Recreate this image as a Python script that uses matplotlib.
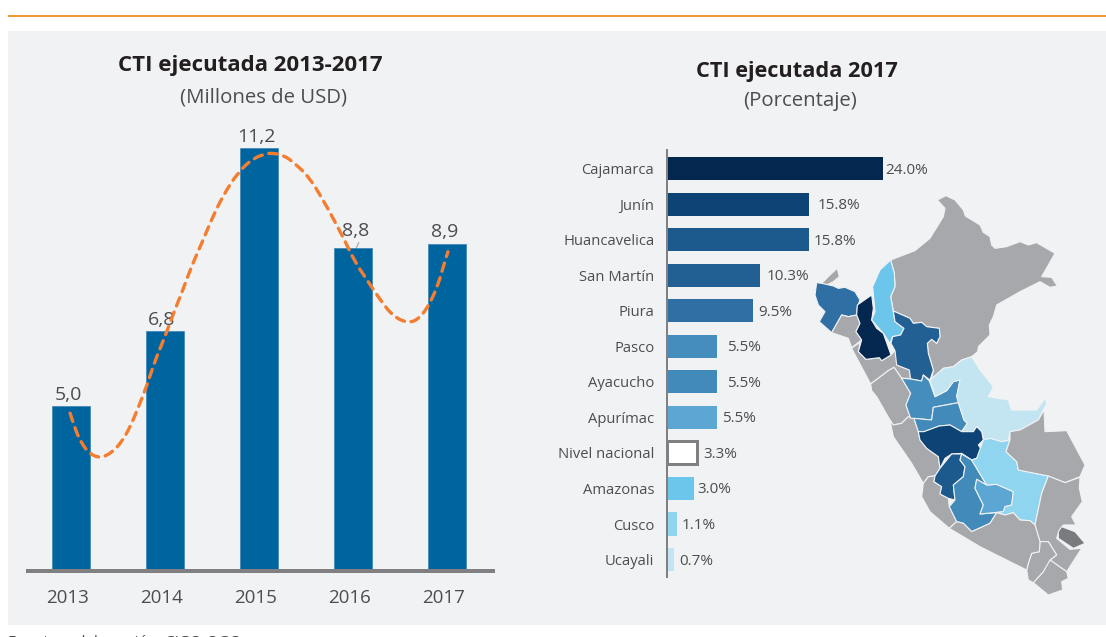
import matplotlib
matplotlib.use("Agg")
import matplotlib.pyplot as plt
from matplotlib.path import Path
from matplotlib.patches import PathPatch, Polygon, Rectangle

W, H = 1106, 637
PX = 72 / 100  # one pixel in points at dpi 100

plt.rcParams["font.family"] = ["Open Sans", "DejaVu Sans"]

# ── data ─────────────────────────────────────────────────────────
years = ["2013", "2014", "2015", "2016", "2017"]
executed = [5.0, 6.8, 11.2, 8.8, 8.9]
executed_labels = ["5,0", "6,8", "11,2", "8,8", "8,9"]
label_dx = [-3, -3, -3, 3, -2]
label_dy = [2, 2, 2, 8, 3]

# dashed orange trend
trend_x = [-0.01, 0.04, 0.11, 0.20, 0.31, 0.43, 0.54, 0.63, 0.72, 0.81, 0.89, 1.00, 1.09,
           1.19, 1.28, 1.39, 1.50, 1.62, 1.78, 1.94, 2.08, 2.14, 2.26, 2.40, 2.54, 2.67,
           2.79, 2.91, 3.02, 3.15, 3.29, 3.43, 3.59, 3.71, 3.82, 3.91, 3.96, 4.01]
trend_y = [4.83, 4.47, 4.11, 3.85, 3.75, 3.87, 4.14, 4.50, 4.99, 5.51, 6.07, 6.67, 7.23,
           7.79, 8.35, 8.91, 9.51, 10.07, 10.63, 10.96, 11.07, 11.08, 11.04, 10.80, 10.48, 10.00,
           9.51, 8.99, 8.47, 8.03, 7.55, 7.15, 6.99, 7.11, 7.47, 7.95, 8.35, 8.71]

regions = ["Cajamarca", "Junín", "Huancavelica", "San Martín", "Piura", "Pasco", "Ayacucho",
           "Apurímac", "Nivel nacional", "Amazonas", "Cusco", "Ucayali"]
shares = [24.0, 15.8, 15.8, 10.3, 9.5, 5.5, 5.5, 5.5, 3.3, 3.0, 1.1, 0.7]
region_colors = ["#03274f", "#0e4475", "#1c5a8e", "#226094", "#2f6fa3", "#448dbd", "#418aba",
                 "#5ca6d3", "#ffffff", "#6cc6ec", "#8fd5ef", "#c2e5f1"]
share_gaps = [3, 9, 5, 7, 6, 10, 10, 5, 6, 3, 4, 6]

# ── map outlines, traced at 3x from (780, 180) ───────────────────
GREY = "#a7a8ab"
map_shapes = [
    (GREY, [(472,60),(498,47),(525,60),(550,90),(556,108),(600,135),(610,157),(630,170),(635,195),
            (645,205),(680,200),(720,185),(745,195),(770,188),(825,220),(785,290),(815,292),(832,318),
            (810,322),(780,305),(720,335),(650,375),(640,410),(628,435),(630,465),(595,500),(593,515),
            (575,530),(545,540),(520,560),(490,565),(470,590),(455,595),(460,570),(445,520),(442,490),
            (455,478),(470,490),(480,470),(478,445),(440,440),(425,427),(400,430),(390,415),(340,393),
            (332,350),(345,320),(343,280),(332,240),(405,212),(450,175),(490,110),(495,85)]),
    (GREY, [(125,310),(150,285),(172,265),(178,290),(160,305),(140,315)]),
    ("#2f6fa3", [(110,308),(125,310),(160,318),(175,325),(195,322),(225,335),(240,360),(232,380),(230,405),
                 (205,410),(185,405),(155,458),(118,425),(135,395),(115,375),(105,345)]),
    (GREY, [(155,458),(185,405),(205,410),(230,405),(240,430),(228,455),(245,480),(215,503),(205,475)]),
    (GREY, [(215,505),(240,487),(235,515),(258,538),(298,533),(305,542),(333,525),(345,512),(355,535),
            (350,555),(388,570),(392,595),(365,595),(342,562),(325,572),(272,612)]),
    ("#03274f", [(275,345),(280,385),(275,420),(290,445),(310,460),(333,525),(305,542),(298,533),(258,538),
                 (235,515),(245,480),(228,455),(240,430),(230,405),(232,375)]),
    ("#6cc6ec", [(332,240),(343,280),(345,320),(332,350),(340,395),(345,425),(372,445),(362,465),(338,470),
                 (330,490),(310,460),(275,420),(285,395),(278,320),(300,270)]),
    ("#226094", [(340,393),(390,415),(400,430),(425,427),(440,440),(478,445),(480,470),(470,490),(455,478),
                 (442,490),(445,520),(460,570),(450,600),(430,585),(425,603),(392,597),(388,570),(350,555),
                 (345,512),(333,490),(338,470),(362,465),(372,445),(345,425)]),
    (GREY, [(272,612),(325,572),(342,562),(365,595),(392,640),(378,675),(392,715),(385,710),(365,730),
            (340,735),(330,720),(290,650),(275,632)]),
    (GREY, [(330,720),(340,735),(365,730),(385,710),(402,715),(415,755),(420,780),(440,805),(475,830),
            (480,865),(465,888),(445,890),(430,910),(395,850),(340,770)]),
    (GREY, [(430,910),(445,890),(465,888),(462,905),(485,920),(480,942),(505,955),(508,980),(530,1025),
            (508,1045),(450,995),(425,950)]),
    ("#448dbd", [(365,595),(392,597),(425,603),(430,585),(448,603),(465,650),(500,632),(520,605),(540,600),
                 (530,650),(540,665),(535,668),(460,682),(455,720),(402,715),(392,715),(378,675),(392,640)]),
    ("#418aba", [(460,682),(535,668),(552,720),(562,730),(545,755),(510,735),(478,738),(432,755),(415,755),
                 (402,715),(455,720)]),
    ("#c2e5f1", [(450,600),(490,565),(520,560),(545,540),(575,530),(600,570),(640,620),(625,650),(685,660),
                 (695,690),(770,690),(795,655),(800,670),(775,720),(720,750),(690,755),(685,780),(665,785),
                 (630,775),(612,780),(605,755),(590,740),(580,755),(545,755),(562,730),(552,720),(535,668),
                 (530,650),(540,600),(520,605),(500,632),(465,650)]),
    ("#0e4475", [(415,755),(432,755),(478,738),(510,735),(545,755),(580,755),(590,740),(605,755),(610,780),
                 (595,795),(605,810),(590,835),(575,840),(545,820),(515,822),(495,835),(480,865),(475,830),
                 (440,805),(420,780)]),
    ("#1c5a8e", [(480,865),(515,822),(545,822),(540,840),(555,860),(550,890),(520,915),(525,960),(505,955),
                 (480,942),(485,920),(462,905),(465,888)]),
    ("#418aba", [(545,822),(575,840),(620,915),(590,898),(585,925),(610,975),(600,1002),(650,998),(630,1030),
                 (575,1055),(550,1030),(530,1025),(508,980),(525,960),(520,915),(550,890),(555,860),(540,840)]),
    ("#5ca6d3", [(590,898),(620,915),(650,913),(700,935),(695,975),(675,980),(670,995),(600,1002),(610,975),(585,925)]),
    ("#8fd5ef", [(575,840),(590,835),(610,780),(630,775),(665,785),(690,780),(678,815),(710,845),(715,870),(805,888),
                 (785,940),(765,1035),(750,1022),(720,1020),(700,998),(675,1005),(650,998),(670,995),(675,980),
                 (695,975),(700,935),(650,913),(620,915)]),
    (GREY, [(690,755),(720,750),(775,720),(792,690),(795,755),(860,752),(915,855),(900,890),(855,908),
            (805,888),(715,870),(710,845),(678,815),(690,780)]),
    (GREY, [(805,888),(855,908),(900,892),(898,925),(907,965),(875,1010),(888,1035),(850,1035),(835,1060),
            (830,1075),(870,1108),(905,1105),(860,1175),(810,1140),(830,1125),(805,1085),(780,1085),(765,1035),(785,940)]),
    ("#7a7b7e", [(845,1040),(885,1055),(915,1090),(880,1105),(835,1075),(835,1055)]),
    (GREY, [(810,1140),(860,1175),(865,1195),(845,1205),(848,1230),(805,1245),(760,1208),(790,1175),(800,1150)]),
    (GREY, [(745,1150),(755,1120),(778,1115),(780,1085),(805,1085),(830,1125),(810,1140),(790,1175),(760,1208),
            (745,1200),(740,1170)]),
    (GREY, [(508,1045),(530,1025),(550,1030),(575,1055),(630,1030),(650,998),(675,1005),(700,998),(720,1020),
            (750,1022),(765,1035),(780,1085),(778,1115),(755,1120),(745,1150),(740,1170),(690,1145),(600,1100)]),
]

# ── page: panel, rule, titles, map (pixel coordinates) ───────────
fig = plt.figure(figsize=(W / 100, H / 100), dpi=100, facecolor="white")
page = fig.add_axes([0, 0, 1, 1], zorder=0)
page.set_xlim(0, W)
page.set_ylim(H, 0)
page.axis("off")
page.add_patch(Rectangle((8, 31), W - 8, 594, fc="#f1f2f4", ec="none"))
page.add_patch(Rectangle((8, 15), W - 8, 2.4, fc="#f59a38", ec="none"))

TXT = "#4d4d4f"
page.text(250, 66, "CTI ejecutada 2013-2017", fontsize=16, fontweight="bold", color="#231f20", ha="center", va="center")
page.text(263, 97, "(Millones de USD)", fontsize=14.7, color=TXT, ha="center", va="center")
page.text(797, 71, "CTI ejecutada 2017", fontsize=15.7, fontweight="bold", color="#231f20", ha="center", va="center")
page.text(800, 101, "(Porcentaje)", fontsize=14.7, color=TXT, ha="center", va="center")
page.text(8, 634.5, "Fuente y elaboración: CIGO-OGC", fontsize=11, color=TXT, ha="left", va="top", clip_on=True)

for color, pts in map_shapes:
    xy = [(780 + x / 3, 180 + y / 3) for x, y in pts]
    page.add_patch(Polygon(xy, closed=True, fc=color, ec="#f1f2f4", lw=0.8, joinstyle="round"))

# ── left chart ───────────────────────────────────────────────────
ax = fig.add_axes([26 / W, 1 - 571 / H, 469 / W, 441 / H], zorder=1)
ax.patch.set_alpha(0)
ax.set_xlim((26 - 71) / 94, (495 - 71) / 94)
ax.set_ylim(1.036, 1.036 + 441 / 41.6)
ax.bar(range(5), executed, width=0.40, color="#00659f", edgecolor="#3a83b5", linewidth=0.5)
for s in ["top", "right", "left"]:
    ax.spines[s].set_visible(False)
ax.spines["bottom"].set_linewidth(4 * PX)
ax.spines["bottom"].set_color("#808083")
ax.spines["bottom"].set_capstyle("butt")
ax.set_yticks([])
ax.set_xticks([i - 0.035 for i in range(5)], years)
ax.tick_params(axis="x", length=0, pad=13, labelsize=13.5, labelcolor=TXT)

for i, (v, lab) in enumerate(zip(executed, executed_labels)):
    ax.annotate(lab, (i, v), xytext=(label_dx[i] * PX, label_dy[i] * PX), textcoords="offset points",
                ha="center", va="bottom", fontsize=14, color=TXT)

# smooth the traced trend through the midpoints of its points
verts = [(trend_x[0], trend_y[0])]
codes = [Path.MOVETO]
for i in range(1, len(trend_x) - 1):
    verts += [(trend_x[i], trend_y[i]),
              ((trend_x[i] + trend_x[i + 1]) / 2, (trend_y[i] + trend_y[i + 1]) / 2)]
    codes += [Path.CURVE3, Path.CURVE3]
verts.append((trend_x[-1], trend_y[-1]))
codes.append(Path.LINETO)
ax.add_patch(PathPatch(Path(verts, codes), fc="none", ec="#f47d30", lw=2.4, ls=(0, (2.6, 2.0)),
                       capstyle="round", zorder=5, clip_on=False))
page.plot([358.7, 353.3], [242.7, 255], color="#a7a8ab", lw=0.9, zorder=3)

# ── right chart ──────────────────────────────────────────────────
bx = fig.add_axes([667.3 / W, 1 - 577 / H, 300 / W, 427 / H], zorder=1)
bx.patch.set_alpha(0)
bx.set_xlim(0, 300 / 8.97)
bx.set_ylim((577 - 168.5) / 35.55, (150 - 168.5) / 35.55)
ypos = list(range(len(regions)))
bars = bx.barh(ypos, shares, height=0.647, color=region_colors)
nivel = bars[regions.index("Nivel nacional")]
nivel.set_edgecolor("#808083")
nivel.set_linewidth(3 * PX)
for s in ["top", "right", "bottom"]:
    bx.spines[s].set_visible(False)
bx.spines["left"].set_linewidth(2 * PX)
bx.spines["left"].set_color("#808083")
bx.set_xticks([])
bx.set_yticks(ypos, regions)
bx.tick_params(axis="y", length=0, pad=13 * PX, labelsize=10.6, labelcolor=TXT)
for y, v, gap in zip(ypos, shares, share_gaps):
    bx.annotate(f"{v:.1f}%", (v, y), xytext=(gap * PX, -1.5 * PX), textcoords="offset points", ha="left", va="center",
                fontsize=11, color=TXT)

fig.savefig("out.png", dpi=100)
